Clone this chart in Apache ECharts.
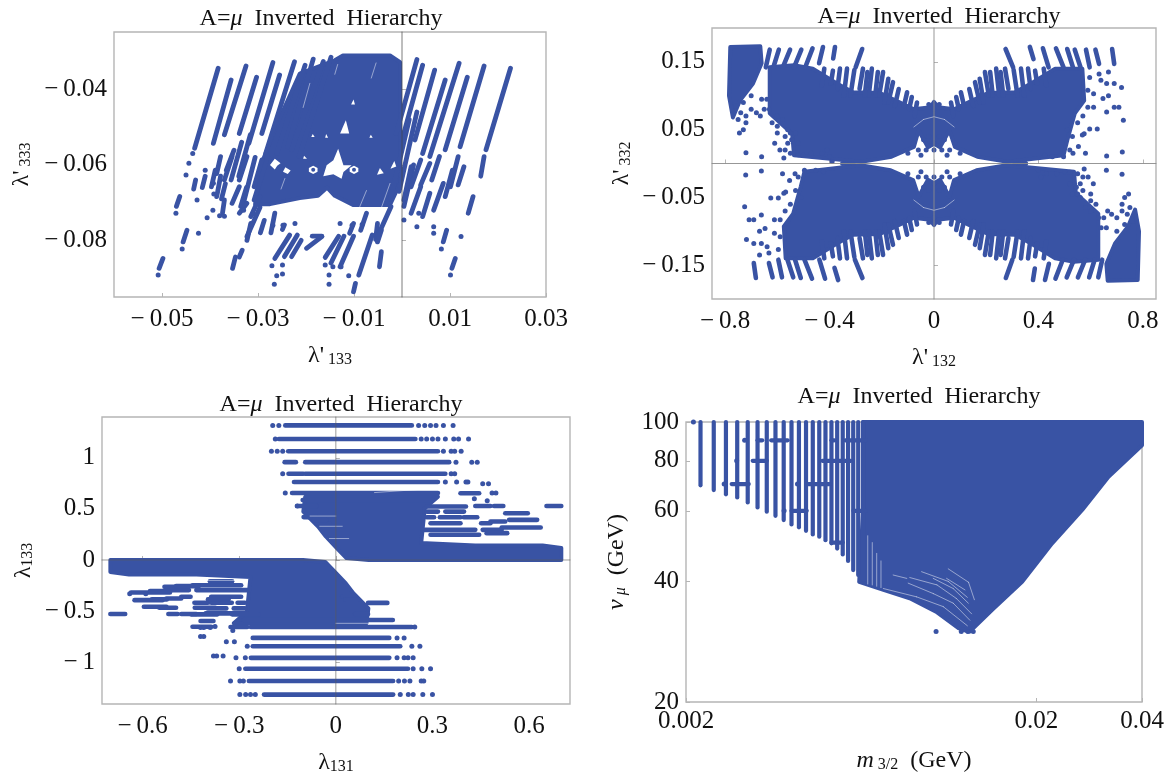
<!DOCTYPE html>
<html><head><meta charset="utf-8">
<style>html,body{margin:0;padding:0;background:#fff}#c{width:1167px;height:776px}</style>
<script src="https://cdn.jsdelivr.net/npm/echarts@6/dist/echarts.min.js"></script>
</head><body><div id="c"></div>
<script>
// ---------- Panel 1: lambda'133 vs lambda'333 (values in thousandths)
const xTicks1=[-0.05,-0.03,-0.01,0.01,0.03];
const yTicks1=[-0.08,-0.06,-0.04];
const blocks1=[[[-14,-32.3],[-12.3,-31],[-2.5,-31],[-0.4,-32.8],[-0.4,-64.9],[-2.5,-70.6],[-10.2,-70.6],[-14,-68.2],[-15.6,-66],[-17.5,-68.2],[-21.3,-68.8],[-27.5,-70.4],[-30.6,-70.4],[-29,-58.8],[-25.4,-47.4],[-21.3,-35.8]]];
const holes1=[[[-13.3,-55.7],[-12.2,-60.1],[-10.5,-60.1],[-12.2,-61.9],[-12.6,-63.7],[-14.3,-62.5],[-16.4,-63],[-15.7,-60.1],[-14.3,-58.8]],[[-11.7,-48.2],[-12.9,-51.7],[-11,-51.7]],[[-10.1,-42.7],[-10.6,-44],[-9.8,-44]],[[-26.5,-58.4],[-25.3,-59.6],[-26,-60.2],[-26.5,-61.2],[-27.5,-60]],[[-24.3,-60.6],[-23.2,-61.5],[-23.8,-62.4],[-24.8,-61.8]],[[-4.6,-60.8],[-3.8,-62.2],[-5.2,-62.6]],[[-1.6,-59],[-1.2,-60.4],[-2.4,-61]],[[-18.5,-60.2],[-17.6,-60.8],[-17.6,-61.8],[-18.5,-62.4],[-19.4,-61.8],[-19.4,-60.8]],[[-10,-60.2],[-9.1,-60.8],[-9.1,-61.8],[-10,-62.4],[-10.9,-61.8],[-10.9,-60.8]],[[-18.6,-51.8],[-18.2,-52.6],[-18.9,-52.6]],[[-15.8,-51.8],[-15.4,-52.8],[-16,-52.8]],[[-6.5,-52],[-6.1,-52.8],[-6.8,-52.8]],[[-20.4,-57.6],[-19.8,-58.4],[-20.6,-58.4]]];
const centerDots1=[[-18.5,-61.3],[-10,-61.3]];
const slits1=[[-19.2,-38.4,-20.6,-44.8],[-7.4,-66.8,-9.1,-72],[-2.5,-64.9,-5,-73.9],[-13.4,-33.4,-14,-36],[-5.4,-33,-6.4,-37],[-24.4,-63.6,-25.2,-66.4]];
const streaks1=[[-38.3,-34.4,-43.2,-55.6],[-46.3,-68.4,-47,-71],[-44.8,-77.3,-45.6,-80.4],[-49.8,-84.8,-50.6,-87.4],[11.1,-84.8,10.4,-87.4],[9.3,-77.3,8.6,-80.4],[14.8,-68.4,13.8,-72.8],[22.6,-34.4,17.5,-56],[17.1,-57.8,16.4,-63],[17.1,-33.8,12.1,-55.2],[11.7,-57.8,10.1,-65.8],[13.6,-36.8,9,-56],[10.5,-61.4,9,-68.4],[11.9,-33.1,5.8,-57.8],[9,-37.5,4.3,-57],[6.8,-34.9,2.7,-53.4],[4.3,-33.6,0,-53.4],[3.1,-32.1,-1.2,-51.7],[-32.5,-33.8,-37,-52],[-37.8,-57.8,-38.6,-62.3],[-35.6,-37.5,-39.3,-54.3],[-38.9,-61.4,-39.7,-65.8],[-30.3,-36.8,-33.9,-51.7],[-35,-56.1,-36.6,-61.4],[-26.9,-32.9,-31.9,-54.3],[-33.9,-65.8,-35.4,-70.2],[-25.5,-36.2,-29.2,-51.7],[-22.4,-32.7,-28.4,-57],[-20.2,-33.6,-26.1,-57],[-18.5,-32,-23.8,-55.2],[-14.8,-31.5,-21.4,-57.8],[-16.4,-32.6,-23,-56],
[-28,-57.8,-30.8,-69.3],[-31.6,-52,-34,-63],[-33.4,-54,-35.6,-64],[-30.6,-58,-33.2,-71],[-32.4,-66,-33.6,-71],
[-26.5,-72.8,-27.3,-78],[-31.5,-75.5,-32.3,-80],[-28.7,-74.7,-29.5,-78],[-24.5,-75.9,-24.9,-77.1],[-10.1,-75.5,-10.9,-78.1],[-7.4,-72.8,-8.6,-77.3],[-5.1,-75.5,-5.5,-79.8],[-2.3,-71.1,-5.1,-79],[-29.6,-71.3,-32.3,-79],
[1.5,-48,-2.4,-69],[3.1,-46,-0.6,-67],[2.4,-60,0.4,-71],
[1.9,-60.5,0.4,-69.3],[3.9,-58.7,1.9,-65.8],[5.8,-59.6,3.9,-65.3],[7.8,-57.8,6.2,-64],[12.9,-60.5,11.7,-65.3],[-29.2,-58.7,-30.8,-65.8],[-32.3,-57.8,-33.9,-64],[-35.4,-57.8,-37,-64],[-37.8,-63,-38.6,-68.4],[-29.6,-68.4,-31.5,-73.7],[-32.3,-70.2,-33.9,-72.8],[-37,-69.3,-37.4,-72.8],
[-23.4,-78.6,-26.5,-84.8],[-21.8,-78.6,-24.5,-84.3],[-21,-80,-23,-84.3],[-16.7,-79,-19.9,-82.1],[-18.7,-78.9,-16.7,-78.9],[-13.2,-78.9,-16,-84.5],[-12.1,-78.9,-14.8,-86],[-10.1,-78.9,-12.9,-87],[-6.2,-78.6,-9,-89.2],[-4.3,-77.3,-5.1,-80.4],[-4.3,-83,-4.7,-87],[-34.7,-84.4,-35.3,-87.4],[-33.3,-82.6,-33.9,-84.4],[-9.7,-91.4,-10.1,-93.6],[3.9,-65.8,1.9,-72.8],[5.8,-67.5,4.3,-73.7],[8.6,-64.9,6.6,-72],[-41,-63,-41.6,-66],[-43,-64,-43.4,-66.4],[-36.8,-65,-37.6,-69]];
const dots1=[[-43.6,-57],[-44.4,-59.6],[-45,-62.7],[-41,-61.4],[-39.2,-67.7],[-42.7,-69.3],[-47.1,-72.8],[-45.8,-82.3],[-42.4,-78.1],[-50.8,-89.2],[10.1,-89.2],[8.2,-82.3],[12.3,-79],[-27.1,-86.7],[-24.9,-86.5],[-26.1,-89.4],[-24.9,-88.9],[-26.6,-91.6],[-16,-86.5],[-15.2,-89.2],[-15.2,-91.6],[-14.4,-87],[-11.1,-89.4],[-12.7,-87],[3.1,-76.4],[0.4,-74.6],[3.5,-72.8],[6.6,-76.4],[6.6,-78.1],[-38,-73.5],[-39.4,-72],[-40.6,-74],[-37,-73.6],[-26.9,-76],[-24.8,-76],[-22.3,-75.5],[-12.9,-75.5],[-10.4,-76],[-8.3,-75.8],[-33,-72],[-31,-73],[-39.3,-64.9]];

// ---------- Panel 2: lambda'132 vs lambda'332
const xTicks2=[-0.8,-0.4,0,0.4,0.8];
const yTicks2=[-0.15,-0.05,0.05,0.15];
const blocks2=[
[[-0.629,0.142],[-0.536,0.145],[-0.464,0.14],[-0.372,0.118],[-0.31,0.105],[-0.207,0.104],[-0.13,0.09],[-0.077,0.08],[-0.013,0.083],[0,0.091],[0.016,0.083],[0.077,0.08],[0.13,0.09],[0.207,0.104],[0.31,0.105],[0.372,0.118],[0.464,0.14],[0.568,0.14],[0.575,0.093],[0.539,0.074],[0.51,0.034],[0.496,0.012],[0.281,0.0025],[0.166,0.01],[0.08,0.0245],[0.059,0.049],[0.023,0.024],[0,0.029],[-0.023,0.024],[-0.059,0.049],[-0.077,0.0245],[-0.163,0.01],[-0.278,0.0025],[-0.536,0.012],[-0.543,0.044],[-0.629,0.074]],
[[0.629,-0.142],[0.536,-0.145],[0.464,-0.14],[0.372,-0.118],[0.31,-0.105],[0.207,-0.104],[0.13,-0.09],[0.077,-0.08],[0.013,-0.083],[0,-0.091],[-0.016,-0.083],[-0.077,-0.08],[-0.13,-0.09],[-0.207,-0.104],[-0.31,-0.105],[-0.372,-0.118],[-0.464,-0.14],[-0.568,-0.14],[-0.575,-0.093],[-0.539,-0.074],[-0.51,-0.034],[-0.496,-0.012],[-0.281,-0.0025],[-0.166,-0.01],[-0.08,-0.0245],[-0.059,-0.049],[-0.023,-0.024],[0,-0.029],[0.023,-0.024],[0.059,-0.049],[0.077,-0.0245],[0.163,-0.01],[0.278,-0.0025],[0.536,-0.012],[0.543,-0.044],[0.629,-0.074]],
[[-0.78,0.172],[-0.665,0.173],[-0.66,0.148],[-0.693,0.118],[-0.743,0.093],[-0.77,0.068],[-0.785,0.1]],
[[0.78,-0.172],[0.665,-0.173],[0.66,-0.148],[0.693,-0.118],[0.743,-0.093],[0.77,-0.068],[0.785,-0.1]]];
const streaks2=[[-0.275,0.169,-0.3,0.142],[-0.379,0.172,-0.386,0.155],[-0.425,0.172,-0.44,0.148],[-0.465,0.17,-0.493,0.142],[-0.508,0.168,-0.536,0.142],[-0.551,0.168,-0.579,0.142],[-0.594,0.168,-0.615,0.142],[-0.629,0.168,-0.644,0.142],[-0.387,0.137,-0.395,0.118],[-0.333,0.14,-0.345,0.1],[-0.272,0.14,-0.285,0.11],[-0.238,0.14,-0.25,0.1],[-0.195,0.135,-0.21,0.1],[-0.157,0.12,-0.175,0.09],[-0.103,0.105,-0.115,0.085],[-0.065,0.09,-0.075,0.07],[-0.42,0.14,-0.43,0.115],[-0.36,0.14,-0.37,0.11],[-0.305,0.138,-0.32,0.1],[-0.255,0.135,-0.265,0.1],[-0.215,0.135,-0.225,0.1],[-0.175,0.125,-0.19,0.09],[-0.135,0.11,-0.15,0.085],[-0.085,0.098,-0.095,0.08],
[0.274,0.169,0.303,0.142],[0.367,0.172,0.381,0.154],[0.417,0.17,0.439,0.142],[0.467,0.17,0.496,0.142],[0.51,0.169,0.532,0.142],[0.539,0.168,0.561,0.142],[0.582,0.168,0.596,0.142],[0.618,0.168,0.632,0.147],[0.682,0.169,0.69,0.147],[0.387,0.137,0.395,0.118],[0.333,0.14,0.345,0.1],[0.272,0.14,0.285,0.11],[0.238,0.14,0.25,0.1],[0.195,0.135,0.21,0.1],[0.157,0.12,0.175,0.09],[0.103,0.105,0.115,0.085],[0.065,0.09,0.075,0.07],[0.42,0.14,0.43,0.115],[0.36,0.14,0.37,0.11],[0.305,0.138,0.32,0.1],[0.255,0.135,0.265,0.1],[0.215,0.135,0.225,0.1],[0.175,0.125,0.19,0.09],[0.135,0.11,0.15,0.085],[0.085,0.098,0.095,0.08],
[0.275,-0.169,0.3,-0.142],[0.379,-0.172,0.386,-0.155],[0.425,-0.172,0.44,-0.148],[0.465,-0.17,0.493,-0.142],[0.508,-0.168,0.536,-0.142],[0.551,-0.168,0.579,-0.142],[0.594,-0.168,0.615,-0.142],[0.629,-0.168,0.644,-0.142],[0.387,-0.137,0.395,-0.118],[0.333,-0.14,0.345,-0.1],[0.272,-0.14,0.285,-0.11],[0.238,-0.14,0.25,-0.1],[0.195,-0.135,0.21,-0.1],[0.157,-0.12,0.175,-0.09],[0.103,-0.105,0.115,-0.085],[0.065,-0.09,0.075,-0.07],[0.42,-0.14,0.43,-0.115],[0.36,-0.14,0.37,-0.11],[0.305,-0.138,0.32,-0.1],[0.255,-0.135,0.265,-0.1],[0.215,-0.135,0.225,-0.1],[0.175,-0.125,0.19,-0.09],[0.135,-0.11,0.15,-0.085],[0.085,-0.098,0.095,-0.08],
[-0.274,-0.169,-0.303,-0.142],[-0.367,-0.172,-0.381,-0.154],[-0.417,-0.17,-0.439,-0.142],[-0.467,-0.17,-0.496,-0.142],[-0.51,-0.169,-0.532,-0.142],[-0.539,-0.168,-0.561,-0.142],[-0.582,-0.168,-0.596,-0.142],[-0.618,-0.168,-0.632,-0.147],[-0.682,-0.169,-0.69,-0.147],[-0.387,-0.137,-0.395,-0.118],[-0.333,-0.14,-0.345,-0.1],[-0.272,-0.14,-0.285,-0.11],[-0.238,-0.14,-0.25,-0.1],[-0.195,-0.135,-0.21,-0.1],[-0.157,-0.12,-0.175,-0.09],[-0.103,-0.105,-0.115,-0.085],[-0.065,-0.09,-0.075,-0.07],[-0.42,-0.14,-0.43,-0.115],[-0.36,-0.14,-0.37,-0.11],[-0.305,-0.138,-0.32,-0.1],[-0.255,-0.135,-0.265,-0.1],[-0.215,-0.135,-0.225,-0.1],[-0.175,-0.125,-0.19,-0.09],[-0.135,-0.11,-0.15,-0.085],[-0.085,-0.098,-0.095,-0.08]];
const arcs2=[[-0.077,0.054,-0.04,0.065],[-0.04,0.065,0,0.069],[0,0.069,0.04,0.065],[0.04,0.065,0.077,0.054],[-0.077,-0.054,-0.04,-0.065],[-0.04,-0.065,0,-0.069],[0,-0.069,0.04,-0.065],[0.04,-0.065,0.077,-0.054]];
const dots2=[[-0.72,0.016],[-0.66,0.01],[-0.745,0.045],[-0.73,0.05],[-0.76,0.085],[-0.74,0.075],[-0.72,0.07],[-0.7,0.08],[-0.68,0.075],[-0.665,0.07],[-0.65,0.08],[-0.73,0.09],[-0.7,0.1],[-0.66,0.095],[-0.64,0.095],[-0.63,0.08],[-0.72,0.06],[-0.75,0.065],[-0.6,0.045],[-0.61,0.03],[-0.59,0.02],[-0.56,0.03],[-0.575,0.008],[-0.57,0.02],[-0.55,0.015],[-0.55,0.045],[-0.52,0.03],[-0.52,0.013],[-0.5,0.012],[-0.47,0.015],[-0.43,0.015],[-0.41,0.02],[-0.4,0.01],[-0.35,0],[-0.33,0],[-0.32,0],[-0.39,0.003],[0.32,0],[0.31,0],[0.34,0],[0.35,0],[-0.03,0.02],[0,0.02],[0.03,0.02],[-0.06,0.02],[0.06,0.02],[-0.04,0.035],[0.04,0.035],[-0.08,0.03],[0.08,0.03],[-0.02,0.04],[0.02,0.04],[0,0.03],[-0.05,0.012],[0.05,0.012],[-0.1,0.015],[0.1,0.015],[0,0.088],[0,0.08],[-0.02,0.087],[0.02,0.087],[-0.62,0.06],[-0.6,0.07],[-0.58,0.065],[-0.56,0.05],[-0.6,0.055],[-0.57,0.04],[-0.545,0.035],[-0.53,0.045],
[0.69,0.118],[0.661,0.118],[0.718,0.112],[0.647,0.096],[0.668,0.1],[0.611,0.103],[0.589,0.108],[0.589,0.083],[0.611,0.083],[0.69,0.083],[0.708,0.083],[0.661,0.076],[0.725,0.064],[0.632,0.132],[0.668,0.135],[0.639,0.123],[0.596,0.127],[0.625,0.051],[0.596,0.051],[0.575,0.044],[0.553,0.025],[0.568,0.042],[0.661,0.011],[0.721,0.017],[0.532,0.015],[0.496,0.01],[0.453,0.01],[0.424,0.012],[0.51,0.05],[0.53,0.04],[0.55,0.06],[0.57,0.07],[0.52,0.02],[0.58,0.015],
[0.72,-0.016],[0.66,-0.01],[0.745,-0.045],[0.73,-0.05],[0.76,-0.085],[0.74,-0.075],[0.72,-0.07],[0.7,-0.08],[0.68,-0.075],[0.665,-0.07],[0.65,-0.08],[0.73,-0.09],[0.7,-0.1],[0.66,-0.095],[0.64,-0.095],[0.63,-0.08],[0.72,-0.06],[0.75,-0.065],[0.6,-0.045],[0.61,-0.03],[0.59,-0.02],[0.56,-0.03],[0.575,-0.008],[0.57,-0.02],[0.55,-0.015],[0.55,-0.045],[0.52,-0.03],[0.52,-0.013],[0.5,-0.012],[0.47,-0.015],[0.43,-0.015],[0.41,-0.02],[0.4,-0.01],[0.35,0],[0.33,0],[-0.31,0],[-0.34,0],[0.03,-0.02],[0,-0.02],[-0.03,-0.02],[0.06,-0.02],[-0.06,-0.02],[0.04,-0.035],[-0.04,-0.035],[0.08,-0.03],[-0.08,-0.03],[0.02,-0.04],[-0.02,-0.04],[0,-0.03],[0.05,-0.012],[-0.05,-0.012],[0.1,-0.015],[-0.1,-0.015],[0,-0.088],[0,-0.08],[0.02,-0.087],[-0.02,-0.087],[0.62,-0.06],[0.6,-0.07],[0.58,-0.065],[0.56,-0.05],[0.6,-0.055],[0.57,-0.04],[0.545,-0.035],[0.53,-0.045],
[-0.69,-0.118],[-0.661,-0.118],[-0.718,-0.112],[-0.647,-0.096],[-0.668,-0.1],[-0.611,-0.103],[-0.589,-0.108],[-0.589,-0.083],[-0.611,-0.083],[-0.69,-0.083],[-0.708,-0.083],[-0.661,-0.076],[-0.725,-0.064],[-0.632,-0.132],[-0.668,-0.135],[-0.639,-0.123],[-0.596,-0.127],[-0.625,-0.051],[-0.596,-0.051],[-0.575,-0.044],[-0.553,-0.025],[-0.568,-0.042],[-0.661,-0.011],[-0.721,-0.017],[-0.532,-0.015],[-0.496,-0.01],[-0.453,-0.01],[-0.424,-0.012],[-0.51,-0.05],[-0.53,-0.04],[-0.55,-0.06],[-0.57,-0.07],[-0.52,-0.02],[-0.58,-0.015]];

// ---------- Panel 3: lambda131 vs lambda133
const xTicks3=[-0.6,-0.3,0,0.3,0.6];
const yTicks3=[-1,-0.5,0,0.5,1];
const blocks3=[
[[-0.095,0.62],[0.317,0.62],[0.276,0.506],[0.265,0.166],[0.433,0.143],[0.642,0.143],[0.7,0.117],[0.7,0],[0.102,0],[0.033,0.019],[0.003,0.117],[-0.031,0.23],[-0.055,0.328],[-0.101,0.474]],
[[0.095,-0.62],[-0.317,-0.62],[-0.276,-0.506],[-0.265,-0.166],[-0.433,-0.143],[-0.642,-0.143],[-0.7,-0.117],[-0.7,0],[-0.102,0],[-0.033,-0.019],[-0.003,-0.117],[0.031,-0.23],[0.055,-0.328],[0.101,-0.474]]];
const rows3=[[-0.157,0.236,1.318],[-0.177,0.247,1.185],[-0.148,0.317,1.065],[-0.159,-0.124,0.958],[-0.095,0.352,0.958],[-0.147,-0.101,0.844],[-0.095,0.34,0.844],[-0.13,0.317,0.763],[-0.136,0.317,0.656],[-0.103,0.3,0.588],[0.282,0.404,0.523],[0.282,0.317,0.474],[0.34,0.398,0.474],[0.282,0.305,0.419],[0.323,0.387,0.419],[0.397,0.439,0.419],[0.294,0.387,0.36],[0.451,0.48,0.36],[0.27,0.433,0.295],[0.456,0.515,0.295],[0.294,0.445,0.247],[0.654,0.7,0.529],[0.491,0.52,0.529],[0.433,0.48,0.529],[0.526,0.596,0.458],[0.538,0.625,0.393],[0.515,0.636,0.318],[0.48,0.526,0.377],[0.468,0.532,0.263],[0.387,0.445,0.653],[-0.12,-0.06,0.529],[-0.1,-0.06,0.42],[-0.06,-0.02,0.355],[-0.07,-0.03,0.39],
[-0.223,0.178,-1.318],[-0.27,0.178,-1.185],[-0.281,0.224,-1.065],[-0.264,0.166,-0.958],[-0.258,0.2,-0.844],[-0.258,0.166,-0.763],[-0.327,-0.275,-0.656],[-0.264,0.236,-0.656],[-0.286,0.177,-0.588],[-0.404,-0.282,-0.523],[-0.398,-0.34,-0.474],[-0.317,-0.282,-0.474],[-0.439,-0.397,-0.419],[-0.387,-0.323,-0.419],[-0.305,-0.282,-0.419],[-0.48,-0.451,-0.36],[-0.387,-0.294,-0.36],[-0.515,-0.456,-0.295],[-0.433,-0.27,-0.295],[-0.445,-0.294,-0.247],[-0.7,-0.654,-0.529],[-0.52,-0.491,-0.529],[-0.48,-0.433,-0.529],[-0.596,-0.526,-0.458],[-0.625,-0.538,-0.393],[-0.636,-0.515,-0.318],[-0.526,-0.48,-0.377],[-0.532,-0.468,-0.263],[-0.445,-0.387,-0.653],
[-0.391,-0.322,-0.208],[-0.496,-0.426,-0.256],[-0.577,-0.519,-0.305],[-0.571,-0.525,-0.386],[-0.397,-0.333,-0.386],[-0.548,-0.496,-0.468],[-0.438,-0.374,-0.468],[-0.449,-0.368,-0.532],[-0.322,-0.24,-0.532],[-0.42,-0.38,-0.597],[0.06,0.1,-0.529],[0.1,0.16,-0.42],[0.02,0.06,-0.355],[0.03,0.07,-0.39]];
const gaps3=[[-0.08,0.43,0,0.43],[-0.05,0.33,0.02,0.33],[-0.02,0.21,0.04,0.21],[0.12,0.66,0.3,0.7],[0.28,0.2,0.42,0.2],[-0.28,-0.2,-0.42,-0.2],[0,-0.62,0.1,-0.62],[-0.12,-0.7,0.1,-0.7]];
const dots3=[[-0.196,1.318],[-0.177,1.318],[0.257,1.318],[0.276,1.318],[0.294,1.318],[0.311,1.318],[0.334,1.318],[0.364,1.318],[-0.188,1.185],[0.265,1.185],[0.282,1.185],[0.3,1.185],[0.317,1.185],[0.34,1.185],[0.366,1.185],[0.381,1.185],[0.412,1.185],[-0.2,1.065],[-0.182,1.065],[-0.165,1.065],[0.334,1.065],[0.358,1.065],[0.369,1.065],[0.389,1.065],[0.373,0.958],[0.422,0.958],[0.439,0.958],[-0.165,0.844],[0.358,0.844],[0.369,0.844],[0.34,0.763],[0.375,0.763],[0.404,0.763],[0.41,0.763],[-0.157,0.656],[0.456,0.747],[0.474,0.747],[0.485,0.656],[0.497,0.656],[-0.12,0.529],
[-0.298,-1.318],[-0.28,-1.318],[-0.265,-1.318],[-0.25,-1.318],[0.2,-1.318],[0.225,-1.318],[0.24,-1.318],[0.27,-1.318],[0.3,-1.318],[-0.327,-1.185],[-0.298,-1.185],[-0.287,-1.185],[0.195,-1.185],[0.213,-1.185],[0.23,-1.185],[0.265,-1.185],[0.273,-1.185],[-0.3,-1.065],[0.24,-1.065],[0.267,-1.065],[0.294,-1.065],[-0.31,-0.958],[-0.281,-0.958],[0.19,-0.958],[0.212,-0.958],[0.224,-0.958],[0.24,-0.958],[-0.275,-0.844],[0.236,-0.844],[0.261,-0.844],[0.19,-0.763],[0.212,-0.763],[0.245,-0.656],[-0.38,-0.94],[-0.37,-0.94],[-0.35,-0.94],[-0.34,-0.8],[-0.315,-0.8],[-0.42,-0.75],[-0.41,-0.75],[-0.42,-0.66],[-0.41,-0.66],[-0.39,-0.66],[-0.375,-0.65],[-0.32,-0.69],[-0.64,-0.33],[-0.59,-0.33],[0.43,0.6],[0.47,0.58]];

// ---------- Panel 4: m3/2 vs v_mu (log-log)
const xTicks4=[0.002,0.02,0.04];
const yTicks4=[20,40,60,80,100];
const columnsX4=[0.0022,0.0024,0.0026,0.0028,0.003,0.0032,0.0034,0.0036,0.0038,0.004,0.0042,0.0044,0.0046,0.0048,0.005,0.0052,0.0054,0.0056,0.0058,0.006,0.0062,0.0064];
const columnsY4=[69.5,67.6,66,64.8,63,61.2,59.7,58.3,56.9,55.5,54.6,53.5,52.4,51.7,50.7,49.8,48.3,46.7,45,42.7,41.5,40.3];
const blocks4=[[[0.0064,100],[0.04,100],[0.04,87.5],[0.0321,73],[0.027,60.3],[0.02216,49.8],[0.0182,39.9],[0.01495,34],[0.0129,30],[0.01274,30],[0.01198,30.6],[0.01034,33.6],[0.0087,36.3],[0.00732,38.1],[0.00624,39.9],[0.0064,60]]];
const dashes4=[[0.0032,0.0033,90],[0.0035,0.0039,90],[0.0052,0.0053,90],[0.0057,0.0065,90],[0.0031,0.0034,80],[0.0049,0.0059,80],[0.0027,0.00302,70],[0.00447,0.00513,70],[0.0040,0.00442,60],[0.00601,0.0065,60],[0.0052,0.0056,50]];
const arcs4=[[0.00731,38.4,0.0091,36.6],[0.0091,36.6,0.01084,34.6],[0.01084,34.6,0.0127,31],[0.00861,39.6,0.01015,37.3],[0.01015,37.3,0.01157,35.3],[0.01157,35.3,0.01291,32],[0.0087,40.9,0.0104,39.2],[0.0104,39.2,0.0118,36.3],[0.0118,36.3,0.01306,33.2],[0.01015,40.7,0.01157,38.4],[0.01157,38.4,0.01278,35.3],[0.01108,40.7,0.0125,38.1],[0.0078,41.5,0.00853,40.7],[0.0094,42.3,0.0112,40],[0.0112,40,0.0127,36.5],[0.0112,43,0.0128,39.8],[0.0128,39.8,0.0133,36],[0.0066,39.4,0.0066,52],[0.0068,39.2,0.0068,50],[0.007,38.9,0.007,47],[0.0072,38.6,0.0072,45]];
const dots4=[[0.0021,100],[0.00294,90],[0.00257,70],[0.00416,70],[0.00381,60],[0.00279,80],[0.01034,30],[0.0122,30],[0.01274,30],[0.0132,30]];

const BLUE='#3953a4';
const FRAME='#b5b5b5';
const FONT='"Liberation Serif","Times New Roman",serif';
const MINUS='\u2212\u2009';
const fmt=v=>{const s=String(Math.abs(v));return (v<0?MINUS:'')+s;};
const panels=[
 {g:{left:114,top:32,width:432,height:265},x:[-0.06,0.03],y:[-0.095,-0.0248],xt:xTicks1,yt:yTicks1,scale:0.001,blocks:blocks1,holes:holes1,seg:streaks1,dots:dots1,top:centerDots1,thin:slits1,w:4.8,
  xn:"{a|λ'}{s| 133}",yn:"{a|λ'}{s| 333}",xg:46,yg:80,guide:[[0,-0.095,0,-0.0248]],gc:'rgba(70,70,70,.7)'},
 {g:{left:712,top:28,width:444,height:271},x:[-0.85,0.85],y:[-0.2,0.2],xt:xTicks2,yt:yTicks2,scale:1,blocks:blocks2,holes:[],seg:streaks2,dots:dots2,thin:arcs2,w:4.6,
  xn:"{a|λ'}{s| 132}",yn:"{a|λ'}{s| 332}",xg:46,yg:78,guide:[[0,-0.2,0,0.2],[-0.85,0,0.85,0]],gc:'rgba(140,140,140,.9)'},
 {g:{left:102,top:417,width:468,height:288},x:[-0.726,0.727],y:[-1.41,1.4],xt:xTicks3,yt:yTicks3,scale:1,blocks:blocks3,holes:[],w:4.6,thin:gaps3,
  seg:rows3.map(r=>[r[0],r[2],r[1],r[2]]),dots:dots3,xn:"{a|λ}{s|131}",yn:"{a|λ}{s|133}",xg:46,yg:66,guide:[[0,-1.41,0,1.4],[-0.726,0,0.727,0]],gc:'rgba(90,90,90,.6)'},
 {g:{left:686,top:422,width:456,height:280},x:[0.002,0.04],y:[20,100],log:true,xt:xTicks4,yt:yTicks4,scale:1,blocks:blocks4,holes:[],w:4.2,
  seg:columnsX4.map((x,i)=>[x,100,x,columnsY4[i]]).concat(dashes4.map(r=>[r[0],r[2],r[1],r[2]])),dots:dots4,thin:arcs4,
  xn:"{i|m}{s| 3/2}{a|  (GeV)}",yn:"{i|v}{is| μ}{a|  (GeV)}",xg:46,yg:57,guide:[],gc:FRAME}
];
const titles=[{c:316,t:2},{c:934,t:0},{c:336,t:388},{c:914,t:380}];
const richName={a:{fontFamily:FONT,fontSize:24,color:'#111'},i:{fontFamily:FONT,fontSize:24,fontStyle:'italic',color:'#111'},s:{fontFamily:FONT,fontSize:16,color:'#111',padding:[9,0,0,0]},is:{fontFamily:FONT,fontSize:16,fontStyle:'italic',color:'#111',padding:[9,0,0,0]}};
const segItem=(api,stroke,w)=>{const a=api.coord([api.value(0),api.value(1)]),b=api.coord([api.value(2),api.value(3)]);
  return {type:'line',shape:{x1:a[0],y1:a[1],x2:b[0],y2:b[1]},style:{stroke:stroke,lineWidth:w,lineCap:'round'}};};
const grid=[],xAxis=[],yAxis=[],series=[],title=[];
panels.forEach((p,k)=>{
  const labelBase={formatter:fmt,fontFamily:FONT,fontSize:25,color:'#111',hideOverlap:false,showMinLabel:true,showMaxLabel:true};
  xAxis.push({gridIndex:k,type:p.log?'log':'value',min:p.x[0],max:p.x[1],name:p.xn,nameLocation:'middle',nameGap:p.xg,nameTextStyle:{rich:richName},
    axisLine:{show:false},splitLine:{show:false},axisTick:{show:true,inside:true,length:4,lineStyle:{color:FRAME},customValues:p.xt},
    axisLabel:{...labelBase,customValues:p.xt,margin:p.log?7:10}});
  yAxis.push({gridIndex:k,type:p.log?'log':'value',min:p.y[0],max:p.y[1],name:p.yn,nameLocation:'middle',nameGap:p.yg,nameRotate:90,nameTextStyle:{rich:richName},
    axisLine:{show:false},splitLine:{show:false},axisTick:{show:true,inside:true,length:4,lineStyle:{color:FRAME},customValues:p.yt},
    axisLabel:{...labelBase,customValues:p.yt,margin:7}});
  const S=p.scale;
  const polys=p.blocks.map(b=>b.map(q=>[q[0]*S,q[1]*S]));
  const hs=p.holes.map(b=>b.map(q=>[q[0]*S,q[1]*S]));
  const polyItem=(list,fill)=>(params,api)=>({type:'polygon',shape:{points:list[params.dataIndex].map(q=>api.coord(q))},style:{fill:fill,stroke:fill,lineWidth:fill===BLUE?4:0,lineJoin:'round'}});
  const base={xAxisIndex:k,yAxisIndex:k,silent:true,animation:false};
  const seed=p.log?[p.x[0],p.y[0]]:[0,0];
  series.push({...base,type:'custom',z:2,renderItem:polyItem(polys,BLUE),data:polys.map(()=>seed)});
  series.push({...base,type:'custom',z:3,renderItem:(params,api)=>segItem(api,BLUE,p.w),data:p.seg.map(a=>a.map(v=>v*S))});
  series.push({...base,type:'scatter',z:3,symbolSize:5,itemStyle:{color:BLUE,opacity:1},data:p.dots.map(a=>[a[0]*S,a[1]*S])});
  if(hs.length)series.push({...base,type:'custom',z:4,renderItem:polyItem(hs,'#fff'),data:hs.map(()=>seed)});
  if(p.thin)series.push({...base,type:'custom',z:4,renderItem:(params,api)=>segItem(api,'rgba(255,255,255,.6)',0.8),data:p.thin.map(a=>a.map(v=>v*S))});
  if(p.top)series.push({...base,type:'scatter',z:5,symbolSize:4,itemStyle:{color:BLUE,opacity:1},data:p.top.map(a=>[a[0]*S,a[1]*S])});
  if(p.guide.length)series.push({...base,type:'custom',z:6,renderItem:(params,api)=>segItem(api,p.gc,1),data:p.guide});
  grid.push({...p.g,show:true,borderColor:FRAME,borderWidth:1.4,backgroundColor:'#fff'});
  const tx={fontFamily:FONT,fontSize:24,fontWeight:'normal',color:'#111'};
  title.push({text:'{a|A=}{m|μ}{a|  Inverted  Hierarchy}',left:titles[k].c,textAlign:'center',top:titles[k].t,
    textStyle:{fontWeight:'normal',rich:{a:tx,m:{...tx,fontStyle:'italic'}}}});
});
const chart=echarts.init(document.getElementById('c'),null,{renderer:'canvas'});
chart.setOption({animation:false,backgroundColor:'#fff',title,grid,xAxis,yAxis,series});
</script></body></html>
